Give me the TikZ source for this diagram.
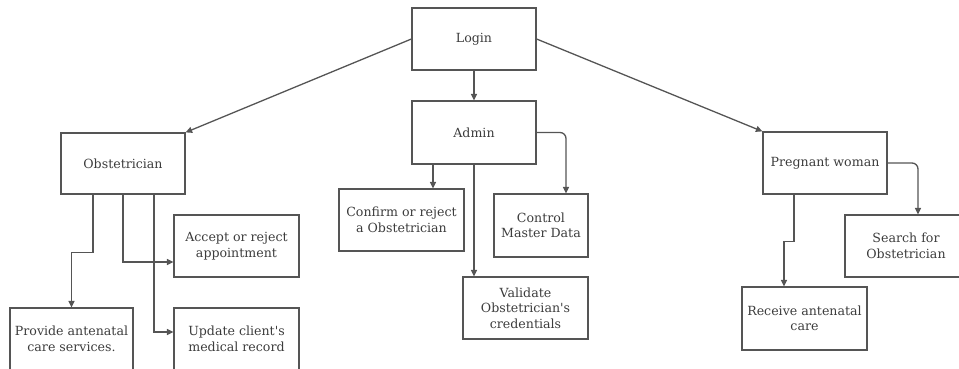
\documentclass[tikz,border=0pt]{standalone}
\usepackage{fontspec}
\setmainfont{DejaVu Serif}
\usepackage{xcolor}
\usetikzlibrary{arrows.meta,positioning,calc}
\definecolor{lineGray}{HTML}{555555}
\definecolor{textGray}{HTML}{3C3C3C}

\begin{document}
\begin{tikzpicture}[x=1pt,y=-1pt,
    box/.style={draw=lineGray,line width=1.2pt,text=textGray,align=center,
      minimum width=124pt,minimum height=62pt,inner sep=2pt,
      font=\fontsize{12.6}{15.5}\selectfont},
    arr/.style={draw=lineGray,line width=1.3pt,-{Triangle[length=6.5pt,width=6pt]}}]
  \useasboundingbox (0,0) rectangle (959,369);
  \clip (0,0) rectangle (959,369);
  % Top level
  \node[box] (login) at (474,39) {Login};
  \node[box,minimum height=63pt] (admin) at (474,132.5) {Admin};
  \node[box,minimum height=61pt] (obst) at (123,163.5) {Obstetrician};
  \node[box] (preg) at (825,163) {Pregnant woman};
  % Admin tasks
  \node[box,minimum width=125pt] (confirm) at (401.5,220) {Confirm or reject\\a Obstetrician};
  \node[box,minimum width=94pt,minimum height=63pt] (master) at (541,225.5) {Control\\Master Data};
  \node[box,minimum width=125pt] (validate) at (525.5,308) {Validate\\Obstetrician\textquotesingle s\\credentials};
  % Obstetrician tasks
  \node[box,minimum width=125pt] (accept) at (236.5,246) {Accept or reject\\appointment};
  \node[box,minimum width=123pt] (provide) at (71.5,339) {Provide antenatal\\care services.};
  \node[box,minimum width=125pt] (update) at (236.5,339) {Update client\textquotesingle s\\medical record};
  % Pregnant woman tasks
  \node[box,minimum width=122pt] (search) at (906,246) {Search for\\Obstetrician};
  \node[box,minimum width=125pt,minimum height=63pt] (receive) at (804.5,318.5) {Receive antenatal\\care};
  % From login
  \draw[arr] (login.west) -- (obst.north east);
  \draw[arr] (login.south) -- (admin.north);
  \draw[arr] (login.east) -- (preg.north west);
  % Admin links
  \draw[arr] ($(admin.south)+(-41,0)$) coordinate (a1) -- (a1 |- confirm.north);
  \draw[arr] (admin.south) -- (admin.south |- validate.north);
  \draw[arr,rounded corners=6pt] (admin.east) -| ($(master.north)+(25,0)$);
  % Obstetrician links
  \draw[arr] ($(obst.south)+(-30,0)$) -- ++(0,58) -| (provide.north);
  \draw[arr] (obst.south) |- ($(accept.west)+(0,16)$);
  \draw[arr] ($(obst.south)+(31,0)$) |- ($(update.west)+(0,-7)$);
  % Pregnant woman links
  \draw[arr] ($(preg.south)+(-31,0)$) -- ++(0,47) -| ($(receive.north)+(-20.5,0)$);
  \draw[arr,rounded corners=6pt] (preg.east) -| ($(search.north)+(12,0)$);
\end{tikzpicture}
\end{document}
